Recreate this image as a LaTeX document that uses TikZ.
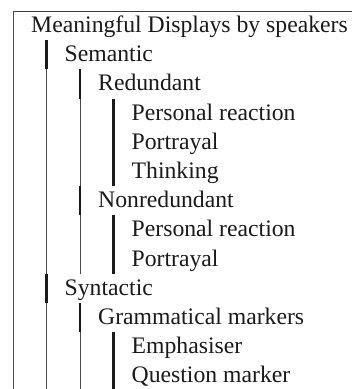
\documentclass[tikz,border=0pt]{standalone}
\usepackage{fontspec}
\setmainfont{Liberation Serif}
\usetikzlibrary{calc}
\definecolor{ink}{HTML}{1A1A1A}
\definecolor{rule}{HTML}{4A4A4A}
\tikzset{
  item/.style={anchor=base west, inner sep=0pt, text=ink, font=\fontsize{23.7}{28}\selectfont},
  barline/.style={draw=ink, line width=2.3pt},
  thinline/.style={draw=rule, line width=0.8pt},
  topline/.style={draw=ink!85, line width=1pt}
}
\begin{document}
\begin{tikzpicture}[x=1pt,y=-1pt]
\useasboundingbox (0,0) rectangle (353,389);
\node[item] (root) at (31,32.5)  {Meaningful Displays by speakers};
\node[item] (sem)  at (64.5,61.7)  {Semantic};
\node[item] (red)  at (98,90.9)  {Redundant};
\node[item] (pra)  at (131.5,120.1) {Personal reaction};
\node[item] (poa)  at (131.5,149.3) {Portrayal};
\node[item] (thi)  at (131.5,178.5) {Thinking};
\node[item] (non)  at (98,207.7) {Nonredundant};
\node[item] (prb)  at (131.5,236.9) {Personal reaction};
\node[item] (pob)  at (131.5,266.1) {Portrayal};
\node[item] (syn)  at (64.5,295.3) {Syntactic};
\node[item] (gra)  at (98,324.5) {Grammatical markers};
\node[item] (emp)  at (131.5,353.7) {Emphasiser};
\node[item] (que)  at (131.5,382.9) {Question marker};
\foreach \n in {root,sem,red,pra,poa,thi,non,prb,pob,syn,gra,emp,que}{
  \coordinate (\n-t) at ($(\n.base west)+(-18,-21.5)$);
  \coordinate (\n-b) at ($(\n.base west)+(-18,7.7)$);
}
\coordinate (topend) at (352,11);
% frame of the root
\draw[topline] (root-t) -- (root-t -| topend);
\draw[thinline] (root-t) -- (root-t |- que-b);
% continuation lines of inner items
\draw[thinline] (sem-b) -- (sem-b |- pob-b);
\draw[thinline] (syn-b) -- (syn-b |- que-b);
\draw[thinline] (red-b) -- (red-b |- thi-b);
\draw[thinline] (non-b) -- (non-b |- pob-b);
\draw[thinline] (gra-b) -- (gra-b |- que-b);
% bars beside each item
\foreach \n in {sem,red,pra,poa,thi,non,prb,pob,syn,gra,emp,que}{
  \draw[barline] (\n-t) -- (\n-b);
}
\end{tikzpicture}
\end{document}
